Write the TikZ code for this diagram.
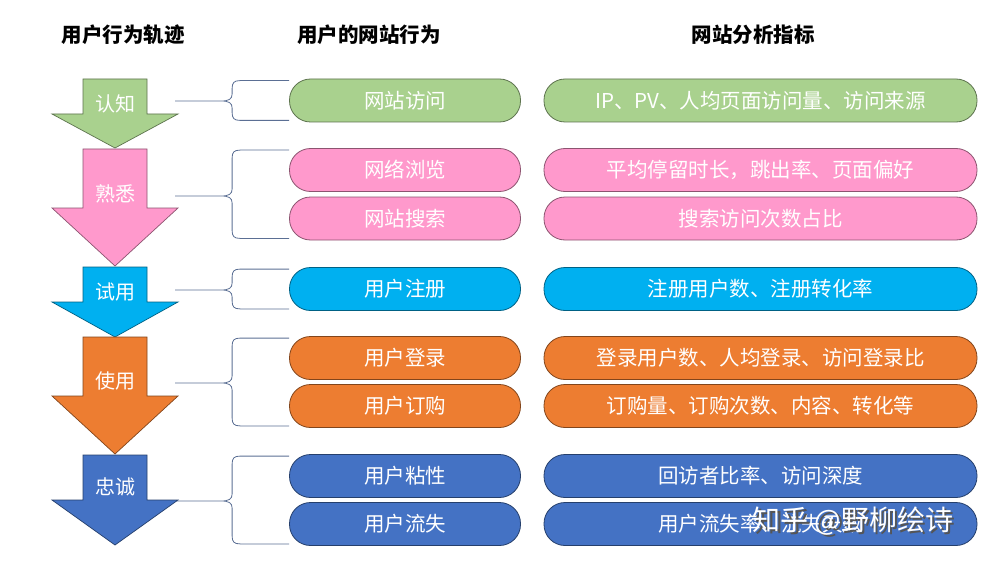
\documentclass[tikz,border=0pt]{standalone}
\usepackage{fontspec}
\setmainfont{Noto Sans CJK SC}
\usepackage{xcolor}
\usetikzlibrary{calc}
\definecolor{stagegreen}{HTML}{A9D18E}
\definecolor{stagepink}{HTML}{FF99CC}
\definecolor{stageblue}{HTML}{00B0F0}
\definecolor{stageorange}{HTML}{ED7D31}
\definecolor{stagenavy}{HTML}{4472C4}
\definecolor{bracecol}{HTML}{5B6F94}
\definecolor{shadowcol}{HTML}{555555}

\tikzset{
  header/.style={font=\fontsize{20.5}{24}\selectfont\bfseries, text=black},
  stagearrow/.style={draw=#1!55!black, fill=#1, line width=0.7pt},
  stagelbl/.style={text=white, font=\fontsize{20}{24}\selectfont},
  behavebox/.style={draw=#1!55!black, fill=#1, line width=0.8pt,
    rounded corners=21pt, minimum width=231pt, minimum height=43pt,
    inner sep=0pt, text=white, font=\fontsize{20.5}{24}\selectfont},
  metricbox/.style={behavebox=#1, minimum width=433pt},
  bracel/.style={draw=bracecol, line width=0.8pt},
  wmark/.style={text=white, font=\fontsize{28}{32}\selectfont},
  wshadow/.style={text=shadowcol, font=\fontsize{28}{32}\selectfont}
}

% brace from the stage arrow to a group of behaviour boxes
\newcommand{\groupbrace}[3]{%
  \draw[bracel] let \p1=([yshift=-2pt]#1.north west),
      \p2=([yshift=2pt]#2.south west), \p3=(#3) in
    (\p1) -- (\x1-49pt,\y1) .. controls (\x1-55pt,\y1) and (\x1-57pt,\y1-2pt) .. (\x1-57pt,\y1-8pt)
      -- (\x1-57pt,\y3+7pt) .. controls (\x1-57pt,\y3+2pt) and (\x1-60pt,\y3) .. (\x1-68pt,\y3)
      -- (\p3)
    (\p2) -- (\x1-49pt,\y2) .. controls (\x1-55pt,\y2) and (\x1-57pt,\y2+2pt) .. (\x1-57pt,\y2+8pt)
      -- (\x1-57pt,\y3-7pt) .. controls (\x1-57pt,\y3-2pt) and (\x1-60pt,\y3) .. (\x1-68pt,\y3);
}

\begin{document}
\begin{tikzpicture}[x=1pt, y=-1pt]

  \fill[white] (0,0) rectangle (985,567);
  \useasboundingbox (0,0) rectangle (985,567);

  % ============== Headers ==============
  \node[header] (htrack) at (123,35) {用户行为轨迹};
  \node[header] (hbehave) at (369,35) {用户的网站行为};
  \node[header] (hmetric) at (753,35) {网站分析指标};

  % ============== Stage arrows ==============
  \draw[stagearrow=stagegreen] (83,79) -- (147,79) -- (147,114) -- (178,114)
    -- (115,148) -- (52,114) -- (83,114) -- cycle;
  \node[stagelbl] (s1) at (115,104) {认知};

  \draw[stagearrow=stagepink] (83,149) -- (147,149) -- (147,208) -- (178,208)
    -- (115,266) -- (52,208) -- (83,208) -- cycle;
  \node[stagelbl] (s2) at (115,194) {熟悉};

  \draw[stagearrow=stageblue] (83,267) -- (147,267) -- (147,302) -- (178,302)
    -- (115,337) -- (52,302) -- (83,302) -- cycle;
  \node[stagelbl] (s3) at (115,292) {试用};

  \draw[stagearrow=stageorange] (83,337) -- (147,337) -- (147,396) -- (178,396)
    -- (115,454) -- (52,396) -- (83,396) -- cycle;
  \node[stagelbl] (s4) at (115,381) {使用};

  \draw[stagearrow=stagenavy] (83,455) -- (147,455) -- (147,500) -- (178,500)
    -- (115,545) -- (52,500) -- (83,500) -- cycle;
  \node[stagelbl] (s5) at (115,487) {忠诚};

  % ============== Behaviour boxes ==============
  \node[behavebox=stagegreen] (b1) at (405,100.5) {网站访问};
  \node[behavebox=stagepink] (b2) at (405,170) {网络浏览};
  \node[behavebox=stagepink] (b3) at (405,218.5) {网站搜索};
  \node[behavebox=stageblue] (b4) at (405,289) {用户注册};
  \node[behavebox=stageorange] (b5) at (405,358) {用户登录};
  \node[behavebox=stageorange] (b6) at (405,406) {用户订购};
  \node[behavebox=stagenavy] (b7) at (405,476) {用户粘性};
  \node[behavebox=stagenavy] (b8) at (405,524) {用户流失};

  % ============== Metric boxes ==============
  \node[metricbox=stagegreen] (m1) at (760.5,100.5) {IP、PV、人均页面访问量、访问来源};
  \node[metricbox=stagepink] (m2) at (760.5,170) {平均停留时长，跳出率、页面偏好};
  \node[metricbox=stagepink] (m3) at (760.5,218.5) {搜索访问次数占比};
  \node[metricbox=stageblue] (m4) at (760.5,289) {注册用户数、注册转化率};
  \node[metricbox=stageorange] (m5) at (760.5,358) {登录用户数、人均登录、访问登录比};
  \node[metricbox=stageorange] (m6) at (760.5,406) {订购量、订购次数、内容、转化等};
  \node[metricbox=stagenavy] (m7) at (760.5,476) {回访者比率、访问深度};
  \node[metricbox=stagenavy] (m8) at (760.5,524) {用户流失率、流失天数};

  % ============== Braces ==============
  \coordinate (t1) at (175,101);
  \coordinate (t2) at (175,196);
  \coordinate (t3) at (175,290);
  \coordinate (t4) at (175,383);
  \coordinate (t5) at (177,501);
  \groupbrace{b1}{b1}{t1}
  \groupbrace{b2}{b3}{t2}
  \groupbrace{b4}{b4}{t3}
  \groupbrace{b5}{b6}{t4}
  \groupbrace{b7}{b8}{t5}

  % Watermark
  \node[wshadow] (wms) at (855.5,523.5) {知乎 @野柳绘诗};
  \node[wmark] (wm) at (853,521) {知乎 @野柳绘诗};

\end{tikzpicture}
\end{document}
